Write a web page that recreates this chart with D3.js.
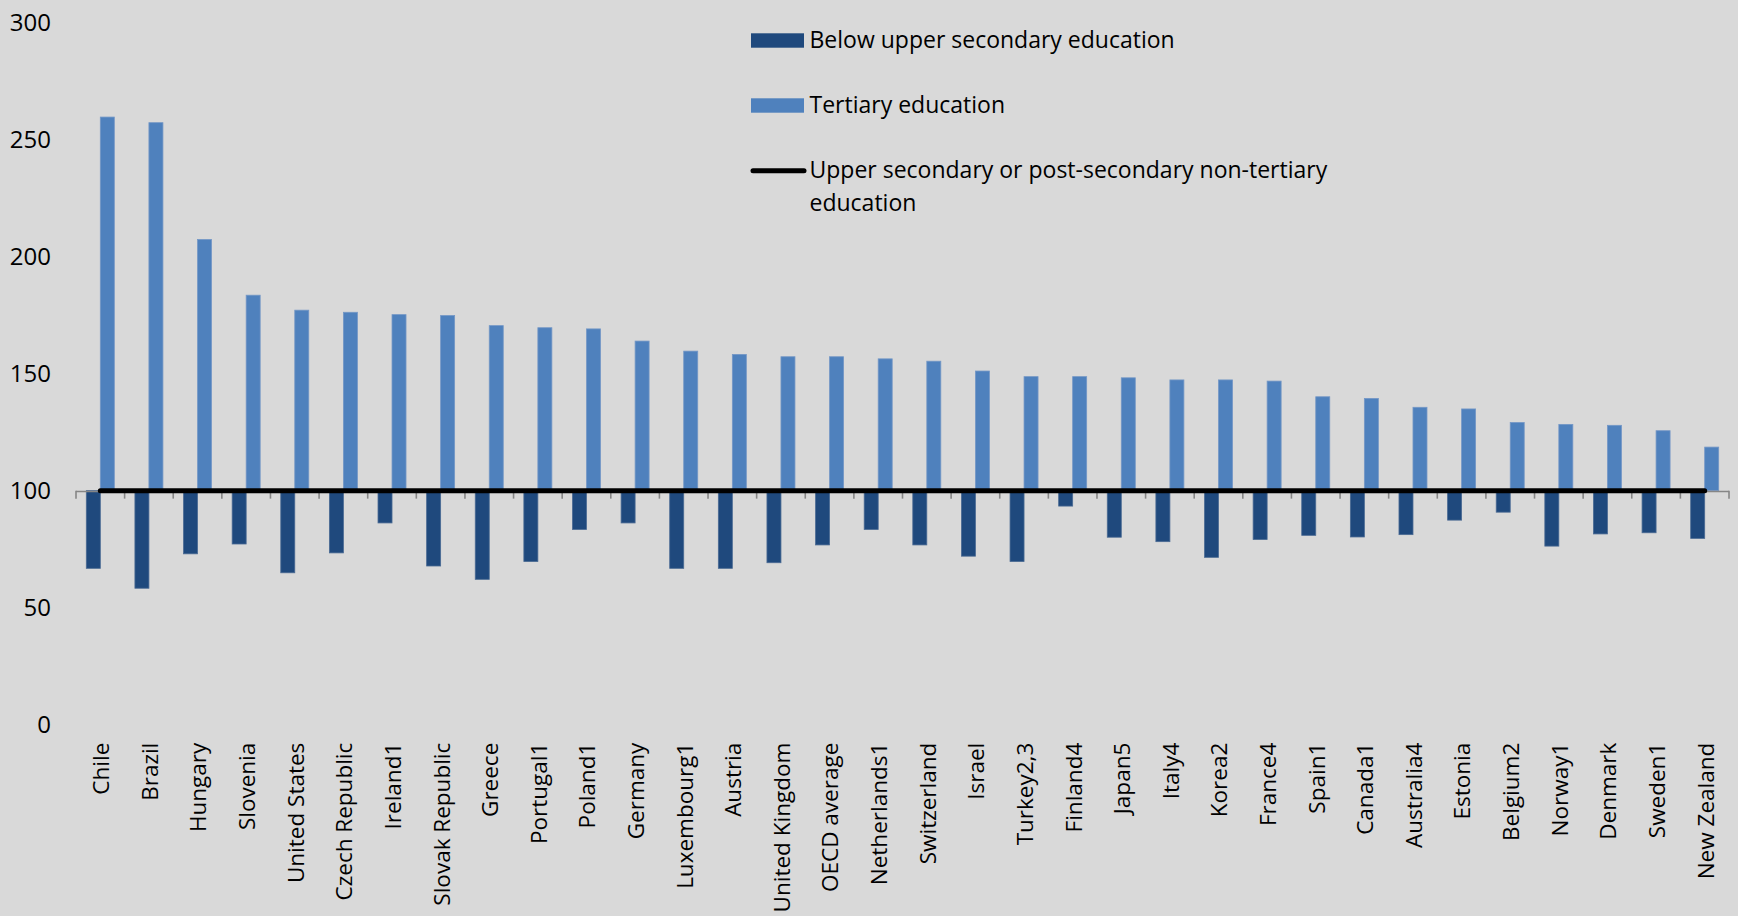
<!DOCTYPE html>
<html>
<head>
<meta charset="utf-8">
<script src="https://cdn.jsdelivr.net/npm/d3@7"></script>
<style>
  html, body { margin: 0; padding: 0; background: #d9d9d9; }
  svg { display: block; }
  text { font-family: "Open Sans", "Noto Sans", sans-serif; fill: #000; }
</style>
</head>
<body>
<svg id="chart" width="1738" height="916"></svg>
<script>
// Earnings by educational attainment, index (upper secondary = 100)
const categories = [
  "Chile", "Brazil", "Hungary", "Slovenia", "United States", "Czech Republic",
  "Ireland1", "Slovak Republic", "Greece", "Portugal1", "Poland1", "Germany",
  "Luxembourg1", "Austria", "United Kingdom", "OECD average", "Netherlands1",
  "Switzerland", "Israel", "Turkey2,3", "Finland4", "Japan5", "Italy4", "Korea2",
  "France4", "Spain1", "Canada1", "Australia4", "Estonia", "Belgium2", "Norway1",
  "Denmark", "Sweden1", "New Zealand"
];

const belowUpperSecondary = [
  66.8, 58.3, 73.0, 77.2, 64.9, 73.4, 86.2, 67.8, 62.1, 69.7, 83.4, 86.2,
  66.8, 66.8, 69.2, 76.8, 83.4, 76.8, 72.0, 69.7, 93.4, 80.1, 78.2, 71.5,
  79.1, 80.9, 80.2, 81.2, 87.4, 90.8, 76.3, 81.5, 82.0, 79.6
];

const tertiary = [
  259.6, 257.2, 207.3, 183.5, 177.1, 176.2, 175.2, 174.8, 170.5, 169.6, 169.1, 163.9,
  159.6, 158.2, 157.2, 157.2, 156.3, 155.3, 151.1, 148.7, 148.7, 148.2, 147.3, 147.3,
  146.8, 140.1, 139.4, 135.6, 134.9, 129.1, 128.3, 127.9, 125.6, 118.6
];

const upperSecondary = [
  100, 100, 100, 100, 100, 100, 100, 100, 100, 100, 100, 100,
  100, 100, 100, 100, 100, 100, 100, 100, 100, 100, 100, 100,
  100, 100, 100, 100, 100, 100, 100, 100, 100, 100
];

const yTicks = [0, 50, 100, 150, 200, 250, 300];
const baseline = 100;

const seriesNames = [
  "Below upper secondary education",
  "Tertiary education",
  "Upper secondary or post-secondary non-tertiary education"
];

const colors = { below: "#1f497d", tertiary: "#4f81bd", line: "#000000", axis: "#868686" };

const svg = d3.select("#chart");

const x = d3.scaleBand().domain(categories).range([76, 1729]).paddingInner(0).paddingOuter(0);
const xInner = d3.scaleBand().domain(["below", "tertiary"])
  .range([0, x.bandwidth()]).paddingInner(0).paddingOuter(0.736);
const y = d3.scaleLinear().domain([0, 300]).range([724.7, 22.5]);

// y labels (no axis line)
const yAxis = d3.axisLeft(y).tickValues(yTicks).tickSize(0).tickPadding(0);
const gy = svg.append("g").attr("transform", "translate(51,0)").call(yAxis);
gy.select(".domain").remove();
gy.selectAll("text")
  .style("font-family", "'Open Sans', 'Noto Sans', sans-serif")
  .style("font-size", "24px")
  .attr("fill", "#000");

const rows = categories.map((c, i) => ({
  c, below: belowUpperSecondary[i], tertiary: tertiary[i], ref: upperSecondary[i]
}));

// bars grow from the baseline of 100
const groups = svg.append("g").selectAll("g").data(rows).join("g")
  .attr("transform", d => `translate(${x(d.c)},0)`);

groups.append("rect")
  .attr("x", xInner("below"))
  .attr("width", xInner.bandwidth())
  .attr("y", d => y(Math.max(d.below, baseline)))
  .attr("height", d => Math.abs(y(d.below) - y(baseline)))
  .attr("fill", colors.below)
  .attr("stroke", "#4a6a93").attr("stroke-width", 0.8);

groups.append("rect")
  .attr("x", xInner("tertiary"))
  .attr("width", xInner.bandwidth())
  .attr("y", d => y(Math.max(d.tertiary, baseline)))
  .attr("height", d => Math.abs(y(d.tertiary) - y(baseline)))
  .attr("fill", colors.tertiary)
  .attr("stroke", "#7497c6").attr("stroke-width", 0.8);

// category axis crossing at 100, ticks between categories
const xAxisG = svg.append("g");
const bounds = categories.map(c => x(c)).concat([x.range()[1]]);
xAxisG.append("line")
  .attr("x1", x.range()[0]).attr("x2", x.range()[1])
  .attr("y1", y(baseline) + 0.8).attr("y2", y(baseline) + 0.8)
  .attr("stroke", colors.axis).attr("stroke-width", 1.6);
xAxisG.selectAll("line.tick").data(bounds).join("line")
  .attr("class", "tick")
  .attr("x1", d => d).attr("x2", d => d)
  .attr("y1", y(baseline)).attr("y2", y(baseline) + 8)
  .attr("stroke", colors.axis).attr("stroke-width", 1.6);

// reference line for upper secondary
const line = d3.line()
  .x(d => x(d.c) + x.bandwidth() / 2)
  .y(d => y(d.ref));
svg.append("path")
  .datum(rows)
  .attr("d", line)
  .attr("fill", "none")
  .attr("stroke", colors.line)
  .attr("stroke-width", 5)
  .attr("stroke-linecap", "round");

// category labels, rotated
svg.append("g").selectAll("text").data(categories).join("text")
  .attr("transform", d => `translate(${x(d) + x.bandwidth() / 2 + 1},742.7) rotate(-90)`)
  .attr("text-anchor", "end")
  .attr("dy", "0.35em")
  .style("font-size", "22.5px")
  .text(d => d);

// legend
const legend = svg.append("g");
const lx = 809.5, fs = "23px";
legend.append("rect").attr("x", 751).attr("y", 33.3).attr("width", 53).attr("height", 14.4)
  .attr("fill", colors.below);
legend.append("text").attr("x", lx).attr("y", 47.7).style("font-size", fs)
  .text(seriesNames[0]);

legend.append("rect").attr("x", 751).attr("y", 98.3).attr("width", 53).attr("height", 14.4)
  .attr("fill", colors.tertiary);
legend.append("text").attr("x", lx).attr("y", 112.7).style("font-size", fs)
  .text(seriesNames[1]);

legend.append("line").attr("x1", 753).attr("x2", 804).attr("y1", 170.7).attr("y2", 170.7)
  .attr("stroke", colors.line).attr("stroke-width", 5).attr("stroke-linecap", "round");
const t3 = legend.append("text").attr("x", lx).attr("y", 178.3).style("font-size", fs);
t3.append("tspan").attr("x", lx).text("Upper secondary or post-secondary non-tertiary");
t3.append("tspan").attr("x", lx).attr("y", 210.7).text("education");
</script>
</body>
</html>
